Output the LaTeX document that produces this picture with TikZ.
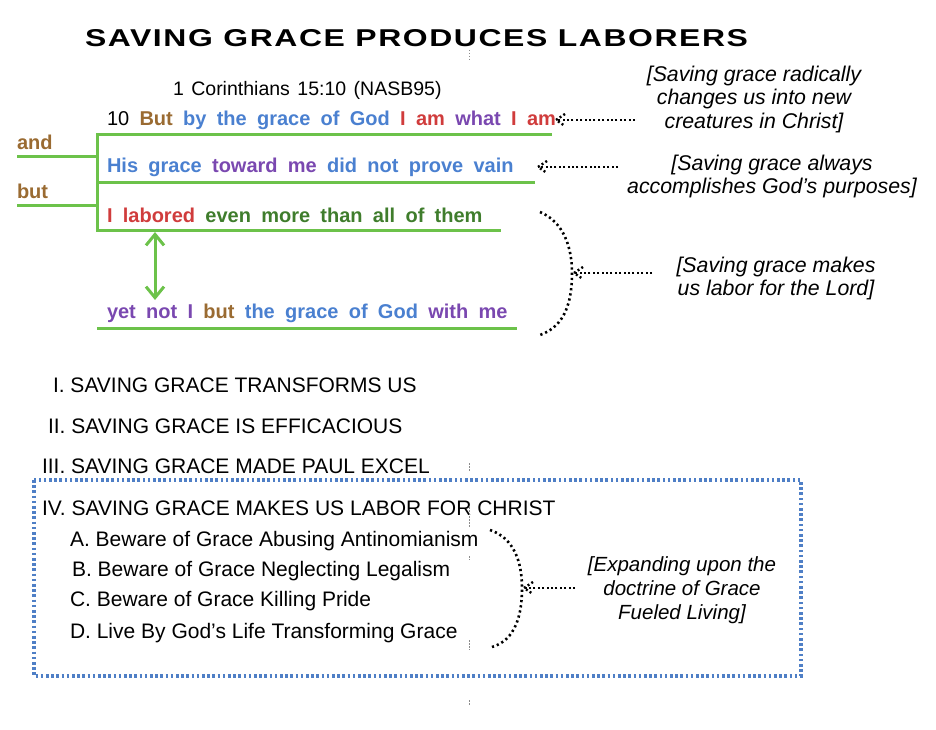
\documentclass[tikz,border=0pt]{standalone}
\usepackage{fontspec}
\setmainfont{Liberation Sans}
\newfontfamily\titlefont[LetterSpace=5]{Liberation Sans}
\usetikzlibrary{arrows.meta}
\definecolor{brownc}{HTML}{9A6B32}
\definecolor{bluec}{HTML}{4A80D0}
\definecolor{redc}{HTML}{D03C3C}
\definecolor{purplec}{HTML}{7A48B0}
\definecolor{dgreenc}{HTML}{3F7D2C}
\definecolor{linegreen}{HTML}{6CC24A}
\definecolor{boxblue}{HTML}{4F7FC6}
\newcommand\versefont{\fontsize{20}{24}\selectfont\bfseries\spaceskip=10.3pt\relax}
\newcommand\reffont{\fontsize{19.5}{23}\selectfont\spaceskip=7.5pt\relax}
\begin{document}
\begin{tikzpicture}[x=1pt,y=-1pt,
  every node/.style={inner sep=0pt,outer sep=0pt},
  verse/.style={anchor=base west,font=\versefont},
  outline/.style={anchor=base west,font=\fontsize{21}{25}\selectfont},
  note/.style={align=center,font=\fontsize{21.3}{23.5}\selectfont\itshape},
  gline/.style={draw=linegreen,line width=3pt},
  dots/.style={line width=2.4pt,dash pattern=on 2pt off 2.4pt},
  bracedots/.style={line width=2.6pt,dash pattern=on 2.2pt off 3pt},
  guide/.style={draw=black!45,line width=0.5pt,dash pattern=on 1.5pt off 1.5pt}]
\useasboundingbox (0,0) rectangle (936,730);

% title
\node[anchor=base west] (title) at (85,47) {\resizebox{663pt}{17pt}{\titlefont\bfseries SAVING GRACE PRODUCES LABORERS}};
\node[anchor=base west,font=\reffont] (ref) at (173,95.5) {1 Corinthians 15:10 (NASB95)};

% verse lines
\node[verse] (v1) at (107,126) {\textmd{10} \textcolor{brownc}{But} \textcolor{bluec}{by the grace of God} \textcolor{redc}{I am} \textcolor{purplec}{what} \textcolor{redc}{I am}};
\node[verse,text=brownc] (and) at (17,150) {and};
\node[verse] (v2) at (107,173) {\textcolor{bluec}{His grace} \textcolor{purplec}{toward me} \textcolor{bluec}{did not prove vain}};
\node[verse,text=brownc] (but) at (17,198) {but};
\node[verse] (v3) at (107,222) {\textcolor{redc}{I labored} \textcolor{dgreenc}{even more than all of them}};
\node[verse] (v4) at (107,318) {\textcolor{purplec}{yet not I} \textcolor{brownc}{but} \textcolor{bluec}{the grace of God} \textcolor{purplec}{with me}};

% green structure lines
\coordinate (l1a) at (97,135);  \coordinate (l1b) at (552,135);
\coordinate (l2a) at (97,183);  \coordinate (l2b) at (535,183);
\coordinate (l3a) at (97,230);  \coordinate (l3b) at (501,230);
\coordinate (l4a) at (97,328);  \coordinate (l4b) at (517,328);
\coordinate (anda) at (17,157); \coordinate (andb) at (97,157);
\coordinate (buta) at (17,205); \coordinate (butb) at (97,205);
\draw[gline] (l1b) -- (l1a) -- (l3a) -- (l3b);
\draw[gline] (l2a) -- (l2b);
\draw[gline] (l4a) -- (l4b);
\draw[gline] (anda) -- (andb);
\draw[gline] (buta) -- (butb);
\coordinate (ga1) at (155,232);
\coordinate (ga2) at (155,300);
\draw[draw=linegreen,line width=3pt,{Straight Barb[length=11pt,width=18pt]}-{Straight Barb[length=11pt,width=18pt]}] (ga1) -- (ga2);

% notes
\node[note] (n1) at (754,99) {[Saving grace radically\\changes us into new\\creatures in Christ]};
\node[note] (n2) at (772,176.6) {[Saving grace always\\accomplishes God’s purposes]};
\node[note] (n3) at (776,278.6) {[Saving grace makes\\us labor for the Lord]};

\coordinate (a1s) at (635,120); \coordinate (a1e) at (556,120);
\coordinate (a2s) at (618,167); \coordinate (a2e) at (538,167);
\coordinate (a3s) at (652,273); \coordinate (a3e) at (574,273);
\draw[dots] (a1s) -- (a1e);
\draw[dots] (a1e) ++(9,-6) -- (a1e) -- ++(9,6);
\draw[dots] (a2s) -- (a2e);
\draw[dots] (a2e) ++(9,-6) -- (a2e) -- ++(9,6);
\draw[dots] (a3s) -- (a3e);
\draw[dots] (a3e) ++(9,-6) -- (a3e) -- ++(9,6);

\coordinate (b1t) at (540,212); \coordinate (b1m) at (572,273); \coordinate (b1b) at (540,335);
\draw[bracedots] (b1t) .. controls (564,222) and (572,248) .. (b1m) .. controls (572,300) and (566,326) .. (b1b);

% outline
\node[outline] (o1) at (53,392.7) {I. SAVING GRACE TRANSFORMS US};
\node[outline] (o2) at (48,433.5) {II. SAVING GRACE IS EFFICACIOUS};
\node[outline] (o3) at (42,473.5) {III. SAVING GRACE MADE PAUL EXCEL};
\node[minimum width=767pt,minimum height=196pt] (box) at (417.5,578) {};
\draw[draw=boxblue,line width=3.2pt,dash pattern=on 2.6pt off 2.6pt] (box.north west) rectangle (box.south east);
\node[outline] (o4) at (42,515.5) {IV. SAVING GRACE MAKES US LABOR FOR CHRIST};
\node[outline] (sa) at (70,546.7) {A. Beware of Grace Abusing Antinomianism};
\node[outline] (sb) at (72,576.7) {B. Beware of Grace Neglecting Legalism};
\node[outline] (sc) at (70,606.7) {C. Beware of Grace Killing Pride};
\node[outline] (sd) at (70,638.3) {D. Live By God’s Life Transforming Grace};

\node[note,font=\fontsize{20.5}{24}\selectfont\itshape] (n4) at (682,590) {[Expanding upon the\\doctrine of Grace\\Fueled Living]};
\coordinate (a4s) at (575,588); \coordinate (a4e) at (524,588);
\draw[dots] (a4s) -- (a4e);
\draw[dots] (a4e) ++(9,-6) -- (a4e) -- ++(9,6);
\coordinate (b2t) at (490,530); \coordinate (b2m) at (522,588); \coordinate (b2b) at (492,647);
\draw[bracedots] (b2t) .. controls (514,538) and (522,562) .. (b2m) .. controls (522,614) and (516,640) .. (b2b);

% faint centre guide
\draw[guide] (469,50) -- (469,60);
\draw[guide] (469,463) -- (469,472);
\draw[guide] (469,507) -- (469,527);
\draw[guide] (469,556) -- (469,560);
\draw[guide] (469,640) -- (469,650);
\draw[guide] (469,700) -- (469,705);
\end{tikzpicture}
\end{document}
